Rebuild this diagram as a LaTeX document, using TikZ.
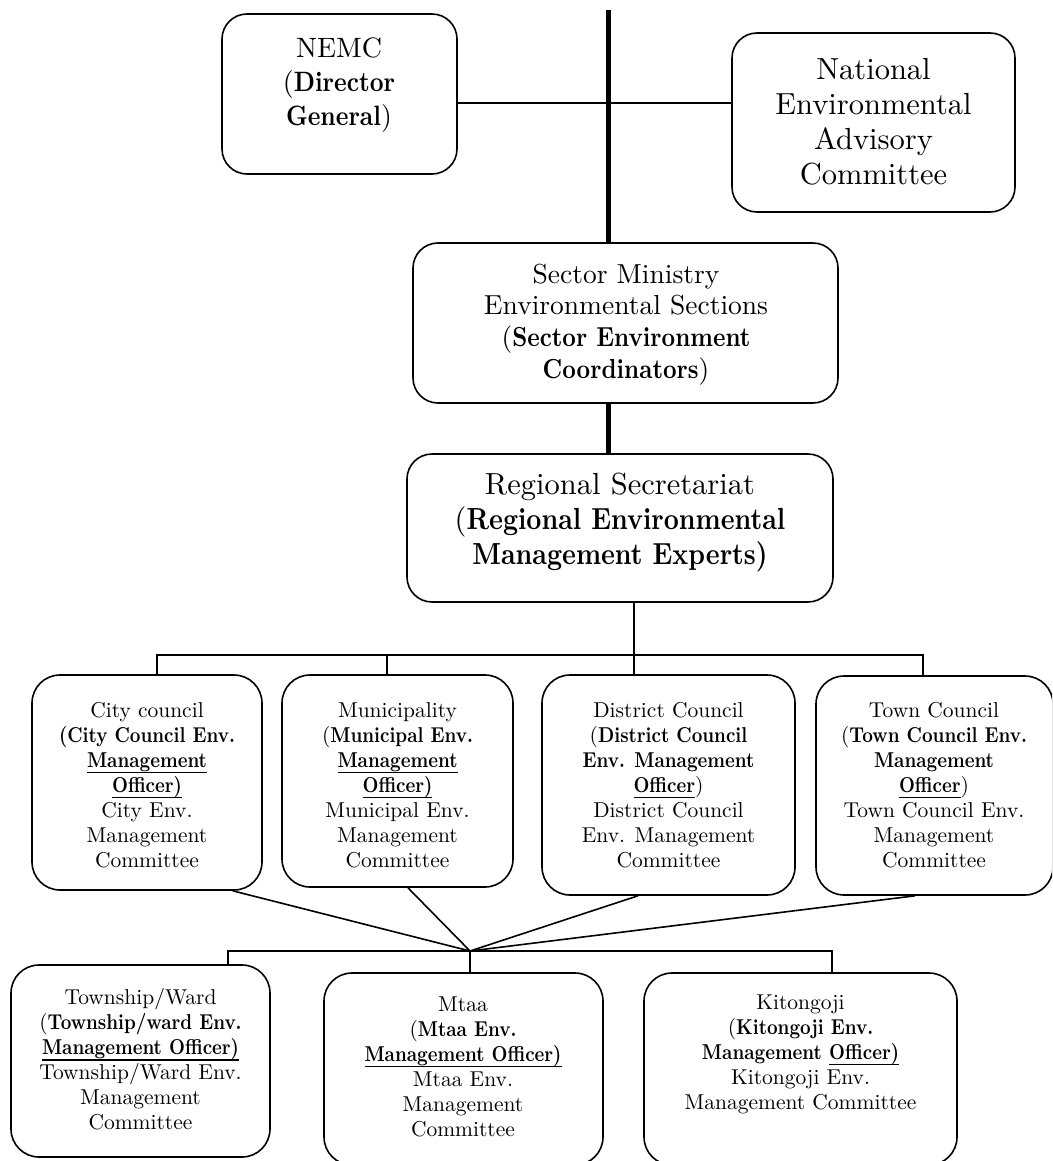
\documentclass[tikz,border=0pt]{standalone}
\usepackage{fontspec}
\setmainfont{lmroman10-regular}[Extension=.otf, BoldFont=lmroman10-bold]
\newfontface\bcf{lmroman10-bold}[Extension=.otf, FakeStretch=0.86]
\newcommand\B[1]{{\bcf #1}}
\newcommand\U[1]{\leavevmode\setbox0=\hbox{#1}\rlap{\rule[-0.27em]{\wd0}{1.3pt}}\box0}
\usetikzlibrary{calc}
\begin{document}
\begin{tikzpicture}[x=1pt,y=-1pt,
  box/.style={draw, line width=1.6pt, rounded corners=28pt, inner sep=0pt},
  topbox/.style={box, rounded corners=25pt},
  txt/.style={align=center, inner sep=0pt},
  bigtxt/.style={txt, font=\fontsize{30.5}{35}\selectfont},
  midtxt/.style={txt, font=\fontsize{21.5}{25}\selectfont},
  conn/.style={line width=1.6pt},
  spine/.style={line width=5pt}]
\useasboundingbox (0,0) rectangle (1052,1161);
\clip (0,0) rectangle (1052,1161);
\fill[white] (0,0) rectangle (1052,1161);

% top level
\node[topbox, minimum width=235pt, minimum height=160pt] (nemc) at (339.5,94) {};
\node[txt, font=\fontsize{28}{34}\selectfont] (nemcT) at (339,85) {NEMC\\(\B{Director}\\\B{General})};
\node[topbox, minimum width=283pt, minimum height=179pt] (neac) at (873.5,122.5) {};
\node[bigtxt] (neacT) at (873.5,121.5) {National\\Environmental\\Advisory\\Committee};
\node[topbox, minimum width=425pt, minimum height=160pt] (sector) at (625.5,323) {};
\node[txt, font=\fontsize{27.5}{31.7}\selectfont] (sectorT) at (626,324.5) {Sector Ministry\\Environmental Sections\\(\B{Sector Environment}\\\B{Coordinators})};
\node[topbox, minimum width=426pt, minimum height=148pt] (regional) at (620,528) {};
\node[bigtxt] (regionalT) at (620,523) {Regional Secretariat\\(\B{Regional Environmental}\\\B{Management Experts)}};

% middle level
\node[box, minimum width=230pt, minimum height=215pt] (city) at (147,782.5) {};
\node[midtxt] (cityT) at (147,785) {City council\\\B{(City Council Env.}\\\U{\B{Management}}\\\U{\B{Officer)}}\\City Env.\\Management\\Committee};
\node[box, minimum width=231pt, minimum height=212pt] (muni) at (397.5,781) {};
\node[midtxt] (muniT) at (397.5,785) {Municipality\\(\B{Municipal Env.}\\\U{\B{Management}}\\\U{\B{Officer)}}\\Municipal Env.\\Management\\Committee};
\node[box, minimum width=253pt, minimum height=220pt] (district) at (668.5,785) {};
\node[midtxt] (districtT) at (668.5,785) {District Council\\(\B{District Council}\\\B{Env. Management}\\\U{\B{Officer}})\\District Council\\Env. Management\\Committee};
\node[box, minimum width=237pt, minimum height=219pt] (town) at (934.5,785.5) {};
\node[midtxt] (townT) at (934,785) {Town Council\\(\B{Town Council Env.}\\\B{Management}\\\U{\B{Officer}})\\Town Council Env.\\Management\\Committee};

% bottom level
\node[box, minimum width=259pt, minimum height=192pt] (township) at (140.5,1061) {};
\node[midtxt] (townshipT) at (140.5,1059.5) {Township/Ward\\(\B{Township/ward Env.}\\\U{\B{Management Officer)}}\\Township/Ward Env.\\Management\\Committee};
\node[box, minimum width=279pt, minimum height=192pt] (mtaa) at (463.5,1069) {};
\node[midtxt] (mtaaT) at (463,1066.5) {Mtaa\\(\B{Mtaa Env.}\\\U{\B{Management Officer)}}\\Mtaa Env.\\Management\\Committee};
\node[box, minimum width=313pt, minimum height=192pt] (kitongoji) at (800.5,1069) {};
\node[midtxt] (kitongojiT) at (800.5,1054) {Kitongoji\\(\B{Kitongoji Env.}\\\B{Management} \U{\B{Officer)}}\\Kitongoji Env.\\Management Committee};

% connectors: top
\coordinate (sp) at (608,10);
\coordinate (hl) at (0,103);
\draw[conn] (nemc.east |- hl) -- (neac.west |- hl);
\draw[spine] (sp) -- (sp |- sector.north);
\draw[spine] (sector.south -| sp) -- (regional.north -| sp);

% regional to middle level
\coordinate (rb) at (634,655);
\coordinate (d1) at (157,655);
\coordinate (d2) at (387,655);
\coordinate (d4) at (923,655);
\draw[conn] (regional.south -| rb) -- (district.north -| rb);
\draw[conn] (city.north -| d1) -- (d1) -- (d4) -- (town.north -| d4);
\draw[conn] (d2) -- (muni.north -| d2);

% middle to bottom level
\coordinate (P) at (470,951);
\coordinate (e1) at (228,951);
\coordinate (e3) at (832,951);
\draw[conn] ($(city.south west)!0.87!(city.south east)$) -- (P);
\draw[conn] ($(muni.south west)!0.545!(muni.south east)$) -- (P);
\draw[conn] ($(district.south west)!0.38!(district.south east)$) -- (P);
\draw[conn] ($(town.south west)!0.418!(town.south east)$) -- (P);
\draw[conn] (township.north -| e1) -- (e1) -- (e3) -- (kitongoji.north -| e3);
\draw[conn] (P) -- (mtaa.north -| P);
\end{tikzpicture}
\end{document}
